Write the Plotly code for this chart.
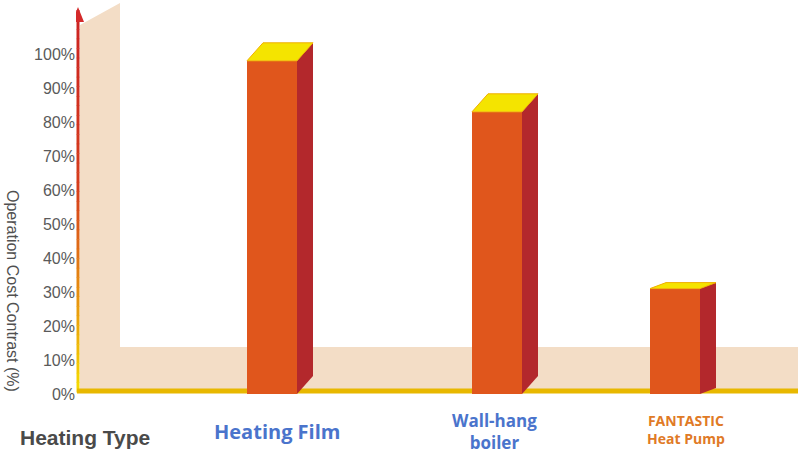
import plotly.graph_objects as go

# --- data ---
categories = ["Heating Film", "Wall-hang<br>boiler", "FANTASTIC<br>Heat Pump"]
cost_pct = [98, 83, 31]
tick_vals = [0, 10, 20, 30, 40, 50, 60, 70, 80, 90, 100]
tick_text = [f"{v}%" for v in tick_vals]

# --- layout constants (pixels) ---
W, H = 798, 456
LEFT = 76
ZERO_PX = 394          # pixel row of 0%
PX_PER_PCT = 3.4       # pixels per percentage point

bar_x = [272, 497, 675]
bar_w = 50
depth_dx = 16
depth_dy_px = [18, 18, 6]
label_x = [277, 494, 686]
label_y = [431, 431, 429]
label_colors = ["#4a74cc", "#4a74cc", "#e07a26"]
label_sizes = [20, 17, 14]

FRONT = "#e0561c"
SIDE = "#b3282c"
TOP = "#f4e400"
BEIGE = "#f3ddc6"


def py(p):
    # pixel row -> y value
    return (ZERO_PX - p) / PX_PER_PCT


def px(p):
    # pixel column -> paper x
    return (p - LEFT) / (W - LEFT)


fig = go.Figure()

# front faces
fig.add_trace(go.Bar(
    x=bar_x, y=cost_pct, width=bar_w,
    marker=dict(color=FRONT, line=dict(width=0)),
    hoverinfo="skip", showlegend=False,
))

# side and top faces, built from the same values
for xc, v, dpx in zip(bar_x, cost_pct, depth_dy_px):
    dy = dpx / PX_PER_PCT
    r = xc + bar_w / 2
    l = xc - bar_w / 2
    fig.add_trace(go.Scatter(
        x=[r, r + depth_dx, r + depth_dx, r, r],
        y=[0, dy, v + dy, v, 0],
        fill="toself", fillcolor=SIDE, mode="lines",
        line=dict(width=0, color=SIDE), hoverinfo="skip", showlegend=False,
    ))
    fig.add_trace(go.Scatter(
        x=[l, r, r + depth_dx, l + depth_dx, l],
        y=[v, v, v + dy, v + dy, v],
        fill="toself", fillcolor=TOP, mode="lines",
        line=dict(width=1, color="#f0b000"), hoverinfo="skip", showlegend=False,
    ))

shapes = []

# beige wall + floor panel
panel = [(80, 25), (120, 3), (120, 347), (798, 347), (798, 391), (80, 391)]
path = "M " + " L ".join(f"{x},{py(y)}" for x, y in panel) + " Z"
shapes.append(dict(type="path", path=path, xref="x", yref="y",
                   fillcolor=BEIGE, line=dict(width=0), layer="below"))

# vertical axis with red -> yellow gradient
stops = [(10, (204, 34, 34)), (190, (214, 62, 28)), (300, (232, 150, 16)), (392, (246, 220, 0))]
n = 40
for i in range(n):
    p0 = 10 + (392 - 10) * i / n
    p1 = 10 + (392 - 10) * (i + 1) / n
    pm = (p0 + p1) / 2
    for (a, ca), (b, cb) in zip(stops[:-1], stops[1:]):
        if a <= pm <= b:
            t = (pm - a) / (b - a)
            c = tuple(int(ca[k] + (cb[k] - ca[k]) * t) for k in range(3))
            break
    shapes.append(dict(type="line", xref="x", yref="y",
                       x0=78, x1=78, y0=py(p0), y1=py(p1 + 0.5),
                       line=dict(color=f"rgb{c}", width=3), layer="below"))

# arrow head
shapes.append(dict(type="path", xref="x", yref="y",
                   path=f"M 72,{py(22)} L 78,{py(7)} L 84,{py(22)} Z",
                   fillcolor="#d42a2a", line=dict(width=0)))

# baseline
shapes.append(dict(type="line", xref="x", yref="y",
                   x0=77, x1=798, y0=py(391), y1=py(391),
                   line=dict(color="#e8b800", width=5), layer="below"))

annotations = []
for lx, ly, txt, col, sz in zip(label_x, label_y, categories, label_colors, label_sizes):
    annotations.append(dict(
        x=px(lx), y=py(ly), xref="paper", yref="y", text=f"<b>{txt}</b>",
        xanchor="center", yanchor="middle", showarrow=False, align="center",
        font=dict(family="Open Sans", size=sz, color=col),
    ))

annotations.append(dict(
    x=px(85), y=py(437), xref="paper", yref="y", text="<b>Heating Type</b>",
    xanchor="center", yanchor="middle", showarrow=False,
    font=dict(family="Liberation Sans", size=21, color="#4a4a4a"),
))
annotations.append(dict(
    x=px(13), y=py(291), xref="paper", yref="y", text="Operation Cost Contrast (%)",
    textangle=90, xanchor="center", yanchor="middle", showarrow=False,
    font=dict(family="Liberation Sans", size=16, color="#505050"),
))

fig.update_layout(
    width=W, height=H,
    margin=dict(l=LEFT, r=0, t=0, b=0),
    paper_bgcolor="white", plot_bgcolor="white",
    shapes=shapes, annotations=annotations,
    bargap=0,
    xaxis=dict(range=[LEFT, W], visible=False, fixedrange=True),
    yaxis=dict(range=[py(H), py(0)], tickvals=tick_vals, ticktext=tick_text,
               showgrid=False, zeroline=False, showline=False, ticks="",
               tickfont=dict(family="Liberation Sans", size=16, color="#5a5a5a"),
               fixedrange=True),
)

# the page body has an 8px default margin; drop it so the figure sits at 0,0
fig.write_html("out.html", config={"displayModeBar": False},
               post_script="document.body.style.margin='0';")
